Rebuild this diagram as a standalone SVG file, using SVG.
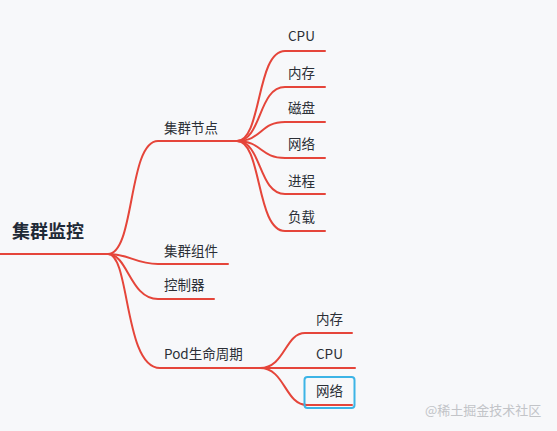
<svg xmlns="http://www.w3.org/2000/svg" width="557" height="431" viewBox="0 0 557 431">
<style>
.bg{fill:#f7f8fa}
.c{fill:none;stroke:#e5453a;stroke-width:2;stroke-linecap:round}
.t{font-family:"Noto Sans CJK SC","Noto Sans",sans-serif;font-size:13.5px;fill:#2b2f36}
.r{font-family:"Noto Sans CJK SC","Noto Sans",sans-serif;font-size:18px;font-weight:bold;fill:#1f2a37}
.w{font-family:"Noto Sans CJK SC","Noto Sans",sans-serif;font-size:13px;fill:#c2c4c8}
</style>
<rect class="bg" width="557" height="431"/>
<g id="connectors">
<path class="c" d="M0,254 L108,254"/>
<path class="c" d="M108,254 C135,254 128,141 158,141 L237,141"/>
<path class="c" d="M108,254 C130,254 135,264 158,264 L228,264"/>
<path class="c" d="M108,254 C128,254 130,299 158,299 L214,299"/>
<path class="c" d="M108,254 C130,254 124,368 160,368 L260,368"/>
<path class="c" d="M237,141 C262,141 256,51 285,51 L325,51"/>
<path class="c" d="M237,141 C262,141 258,87 285,87 L325,87"/>
<path class="c" d="M237,141 C262,141 260,122 285,122 L325,122"/>
<path class="c" d="M237,141 C262,141 260,158 285,158 L325,158"/>
<path class="c" d="M237,141 C262,141 258,194 285,194 L325,194"/>
<path class="c" d="M237,141 C262,141 256,231 285,231 L325,231"/>
<path class="c" d="M260,368 C285,368 285,333 305,333 L352,333"/>
<path class="c" d="M260,368 L355,368"/>
<path class="c" d="M260,368 C285,368 285,405 307,405 L352,405"/>
</g>
<g id="root"><text class="r" x="12" y="238">集群监控</text></g>
<g id="n1"><text class="t" x="164" y="133">集群节点</text></g>
<g id="n2"><text class="t" x="164" y="256">集群组件</text></g>
<g id="n3"><text class="t" x="164" y="290">控制器</text></g>
<g id="n4"><text class="t" x="164" y="359">Pod生命周期</text></g>
<g id="n1a"><text class="t" x="288" y="41">CPU</text></g>
<g id="n1b"><text class="t" x="288" y="78">内存</text></g>
<g id="n1c"><text class="t" x="288" y="113">磁盘</text></g>
<g id="n1d"><text class="t" x="288" y="149">网络</text></g>
<g id="n1e"><text class="t" x="288" y="186">进程</text></g>
<g id="n1f"><text class="t" x="288" y="222">负载</text></g>
<g id="n4a"><text class="t" x="316" y="324">内存</text></g>
<g id="n4b"><text class="t" x="316" y="359">CPU</text></g>
<g id="n4c"><rect x="304.5" y="377" width="50" height="31" rx="3" fill="none" stroke="#3cb4e6" stroke-width="2"/><text class="t" x="316" y="396">网络</text></g>
<text class="w" x="425" y="415">@稀土掘金技术社区</text>
</svg>
